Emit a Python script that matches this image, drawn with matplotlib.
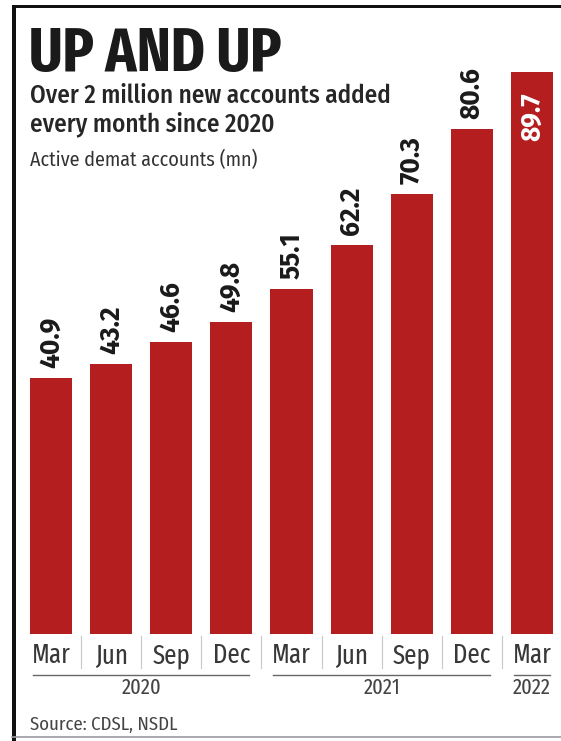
import matplotlib
matplotlib.use("Agg")
import matplotlib.pyplot as plt
from matplotlib.lines import Line2D
from matplotlib.patches import Rectangle
import matplotlib.transforms as mtransforms

# ---- data ----
months = ["Mar", "Jun", "Sep", "Dec", "Mar", "Jun", "Sep", "Dec", "Mar"]
values = [40.9, 43.2, 46.6, 49.8, 55.1, 62.2, 70.3, 80.6, 89.7]
years = ["2020", "2021", "2022"]
year_groups = [(0, 3), (4, 7), (8, 8)]
title = "UP AND UP"
subtitle1 = "Over 2 million new accounts added"
subtitle2 = "every month since 2020"
unit_label = "Active demat accounts (mn)"
source = "Source: CDSL, NSDL"

W, H = 561, 741
DPI = 100
fig = plt.figure(figsize=(W / DPI, H / DPI), dpi=DPI)
fig.patch.set_facecolor("white")

F_XC = ["Fira Sans Extra Condensed", "DejaVu Sans"]
F_C = ["Fira Sans Condensed", "DejaVu Sans"]
F_N = ["Fira Sans", "DejaVu Sans"]

def fx(px):
    return px / W

def fy(py):
    return 1 - py / H

# axes: bar baseline at y=634px, top at y=8px
ax_left, ax_right = 30, 553
ax_bottom, ax_top = 634, 8
ax = fig.add_axes([fx(ax_left), fy(ax_bottom), (ax_right - ax_left) / W, (ax_bottom - ax_top) / H])
ax.set_xlim(-0.35, 8.35)
ax.set_ylim(0, 100)
ax.axis("off")

x = list(range(len(values)))
bar_color = "#b41e1e"
ax.bar(x, values, width=0.7, color=bar_color, zorder=2)

for i, (xi, v) in enumerate(zip(x, values)):
    if i == len(values) - 1:
        ax.annotate(f"{v:.1f}", (xi, v), xytext=(0, -20), textcoords="offset pixels",
                    rotation=90, ha="center", va="top", fontsize=19,
                    fontweight="bold", color="white", family=F_N, zorder=3)
    else:
        ax.annotate(f"{v:.1f}", (xi, v), xytext=(0, 10), textcoords="offset pixels",
                    rotation=90, ha="center", va="bottom", fontsize=19,
                    fontweight="bold", color="#1a1a1a", family=F_N, zorder=3)

blend = mtransforms.blended_transform_factory(ax.transData, fig.transFigure)

# month labels
for xi, m in zip(x, months):
    ax.text(xi, fy(663), m, transform=blend, ha="center", va="baseline",
            fontsize=19.5, color="#383838", family=F_XC)

# separators between month labels
for xi in x[:-1]:
    ax.add_line(Line2D([xi + 0.5, xi + 0.5], [fy(636), fy(668)], transform=blend,
                       color="#c8c8c8", lw=0.8, clip_on=False))

# year lines and labels
for yr, (a, b) in zip(years, year_groups):
    x0, x1 = a - 0.3, b + 0.3
    ax.add_line(Line2D([x0, x1], [fy(675), fy(675)], transform=blend,
                       color="#666666", lw=1.0, clip_on=False))
    ax.text((a + b) / 2, fy(694), yr, transform=blend, ha="center", va="baseline",
            fontsize=16, color="#444444", family=F_XC)

# titles
renderer = fig.canvas.get_renderer()

def fit(t, target_px):
    bb = t.get_window_extent(renderer=renderer)
    t.set_fontsize(t.get_fontsize() * target_px / bb.width)

t_title = fig.text(fx(29), fy(71), title, ha="left", va="baseline", fontsize=50,
                   fontweight="bold", color="#1a1a1a", family=F_XC)
fit(t_title, 253)

t_s1 = fig.text(fx(30), fy(103), subtitle1, ha="left", va="baseline", fontsize=18,
                fontweight="medium", color="#262626", family=F_C)
fit(t_s1, 362)
t_s2 = fig.text(fx(30), fy(131), subtitle2, ha="left", va="baseline",
                fontsize=t_s1.get_fontsize(), fontweight="medium", color="#262626", family=F_C)

t_s3 = fig.text(fx(30), fy(166), unit_label, ha="left", va="baseline", fontsize=16,
                color="#333333", family=F_C)
fit(t_s3, 228)

t_src = fig.text(fx(30), fy(730), source, ha="left", va="baseline", fontsize=10,
                 color="#444444", family=F_C)
fit(t_src, 147)

# frame
fig.add_artist(Rectangle((fx(12), 0), 4 / W, fy(5), transform=fig.transFigure,
                         color="#111111", lw=0))
fig.add_artist(Rectangle((fx(12), fy(8)), 1 - fx(12), 3 / H, transform=fig.transFigure,
                         color="#111111", lw=0))
fig.add_artist(Line2D([fx(12), 1], [fy(737), fy(737)], transform=fig.transFigure,
                      color="#9a9aa2", lw=1.2))

fig.savefig("out.png", dpi=DPI)
